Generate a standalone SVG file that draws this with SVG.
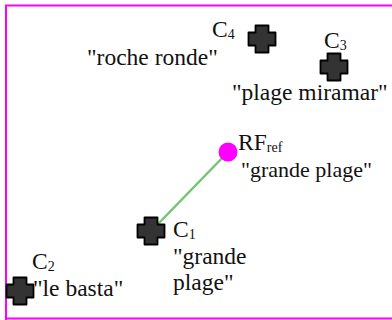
<svg xmlns="http://www.w3.org/2000/svg" width="392" height="320" viewBox="0 0 392 320">
  <defs>
    <style>
      .lbl { font-family: "Liberation Serif", "Times New Roman", serif; font-size: 23.5px; fill: #111; }
      .sub { font-size: 14px; }
      .cross { fill: #333; stroke: #000; stroke-width: 1.8; stroke-linejoin: round; }
    </style>
    <path id="plus" d="M-6.5,-13.5 H6.5 V-6.5 H13.5 V6.5 H6.5 V13.5 H-6.5 V6.5 H-13.5 V-6.5 H-6.5 Z"/>
  </defs>
  <rect x="0" y="0" width="392" height="320" fill="#fff"/>
  <!-- frame -->
  <path d="M6,320 V5.5 H392 M6,318.5 H392" fill="none" stroke="#f0f" stroke-width="2"/>

  <g id="connectors">
    <line x1="228" y1="152" x2="158" y2="224" stroke="#74c474" stroke-width="2.5"/>
  </g>

  <g id="C4">
    <use href="#plus" class="cross" x="262" y="39"/>
    <text class="lbl" x="212" y="37">C<tspan class="sub" dy="2">4</tspan></text>
    <text class="lbl" x="87" y="65">"roche ronde"</text>
  </g>

  <g id="C3">
    <use href="#plus" class="cross" x="334" y="67"/>
    <text class="lbl" x="324" y="48">C<tspan class="sub" dy="2">3</tspan></text>
    <text class="lbl" x="232" y="100">"plage miramar"</text>
  </g>

  <g id="RFref">
    <circle cx="228" cy="152" r="9.5" fill="#f0f"/>
    <text class="lbl" x="238" y="150">RF<tspan class="sub" dy="2">ref</tspan></text>
    <text class="lbl" x="241" y="177" style="font-size:22px">"grande plage"</text>
  </g>

  <g id="C1">
    <use href="#plus" class="cross" x="151" y="231"/>
    <text class="lbl" x="173" y="237">C<tspan class="sub" dy="2">1</tspan></text>
    <text class="lbl" x="173" y="264">"grande</text>
    <text class="lbl" x="173" y="290">plage"</text>
  </g>

  <g id="C2">
    <use href="#plus" class="cross" x="20" y="291"/>
    <text class="lbl" x="32" y="269">C<tspan class="sub" dy="2">2</tspan></text>
    <text class="lbl" x="33" y="296">"le basta"</text>
  </g>
</svg>
